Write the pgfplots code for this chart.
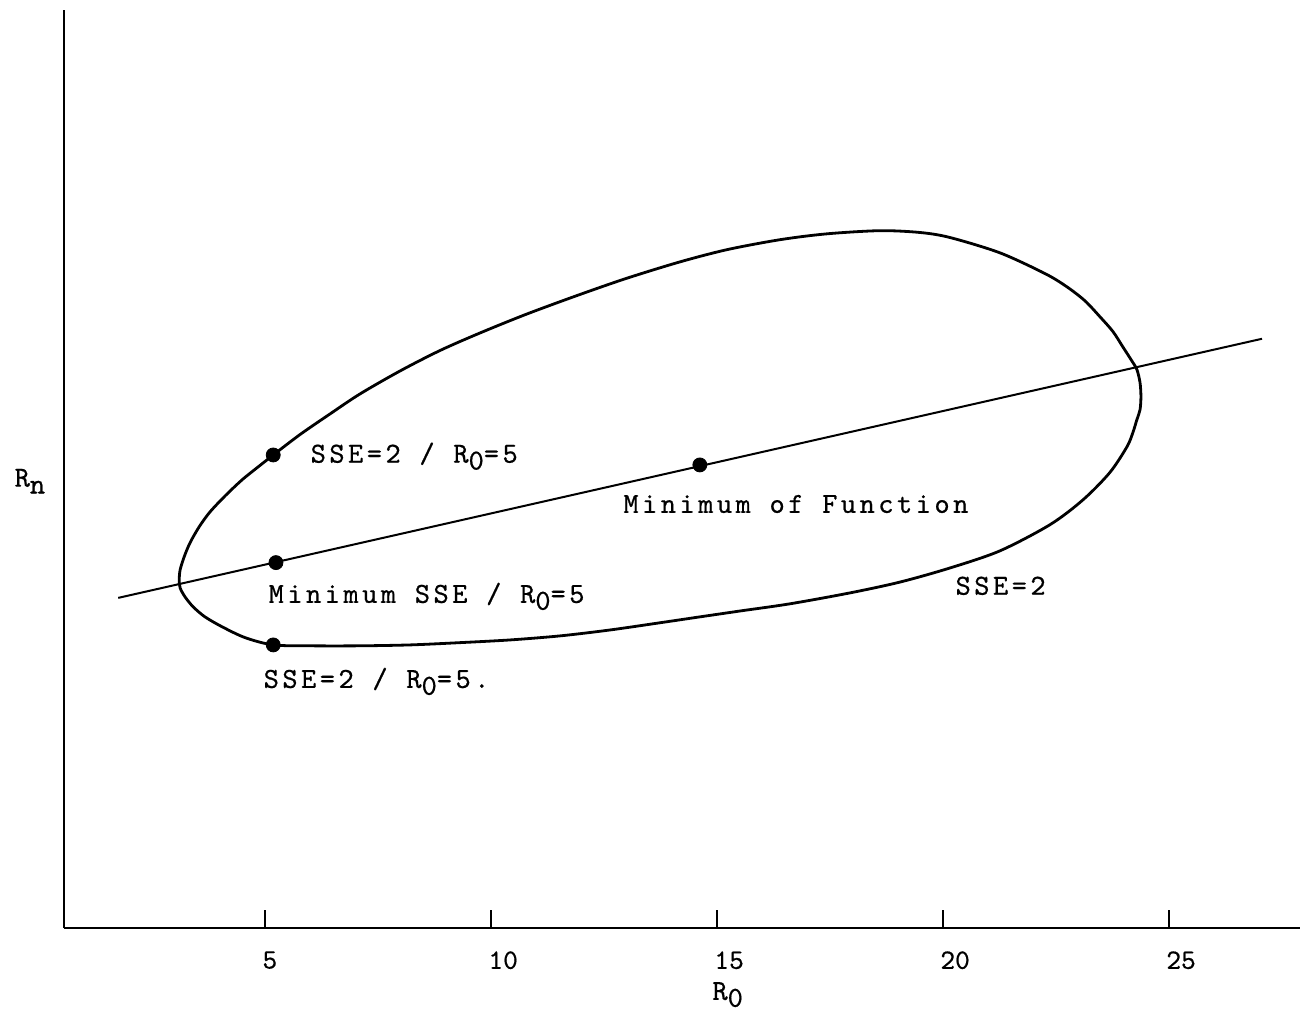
\documentclass[border=0pt]{standalone}
\usepackage{pgfplots}
\pgfplotsset{compat=1.18}
\usepackage{fontspec}
\newfontfamily\tw{lmmono10-regular}[Extension=.otf, LetterSpace=12, FakeBold=0.6]
\newfontfamily\twn{lmmono10-regular}[Extension=.otf, FakeBold=0.6]
\usepackage{graphicx}
\newcommand{\sub}[1]{\raisebox{-0.55ex}{#1}}
\begin{document}
\begin{tikzpicture}
\path[use as bounding box] (-32pt,-42pt) rectangle (618pt,464pt);
\begin{axis}[
  at={(0pt,0pt)}, anchor=south west,
  scale only axis, width=618pt, height=459pt,
  xmin=0.55, xmax=27.9, ymin=0, ymax=20.3,
  axis x line=bottom, axis y line=left,
  axis line style={-, line width=1.4pt, black},
  xtick={5,10,15,20,25}, ytick=\empty,
  tick align=inside, major tick length=9pt,
  tick style={line width=0.9pt, black},
  /pgf/number format/assume math mode=true,
  xticklabel style={font=\twn\fontsize{14}{16}\selectfont, anchor=north west, inner sep=0pt, xshift=-1.5pt, yshift=-11.5pt},
  clip=false,
]
% straight line of minimum SSE
\addplot[black, line width=1pt] coordinates {(1.75,7.30) (27.06,13.03)};
% SSE = 2 contour
\addplot[black, line width=1.4pt, smooth, tension=0.5] coordinates {
(5.18,10.46) (5.77,10.91) (6.44,11.37) (7.10,11.81) (7.99,12.32) (8.87,12.77)
(9.76,13.16) (10.80,13.58) (11.97,14.01) (13.01,14.37) (14.18,14.73) (15.22,15.00)
(16.39,15.22) (17.43,15.35) (18.61,15.42) (19.49,15.38) (20.15,15.27) (21.26,14.93)
(22.26,14.47) (22.74,14.18) (23.14,13.87) (23.47,13.52) (23.76,13.19) (23.98,12.85)
(24.16,12.57) (24.29,12.35) (24.36,12.06) (24.38,11.75) (24.36,11.46) (24.29,11.24)
(24.20,10.95) (24.07,10.64) (23.69,10.07) (23.10,9.47) (22.37,8.92) (21.26,8.34)
(20.15,7.96) (19.05,7.65) (17.94,7.41) (16.62,7.17) (15.51,7.01) (14.62,6.88)
(13.74,6.75) (12.63,6.59) (11.53,6.46) (10.42,6.37) (9.31,6.31) (8.21,6.26)
(7.10,6.24) (6.00,6.24) (5.18,6.26) (4.56,6.42) (4.05,6.66) (3.67,6.88)
(3.41,7.10) (3.23,7.32) (3.12,7.52) (3.10,7.70) (3.12,7.92) (3.21,8.21)
(3.34,8.52) (3.54,8.87) (3.78,9.20) (4.12,9.56) (4.49,9.91) (4.85,10.20) (5.18,10.46)};
% points
\addplot[only marks, mark=*, mark size=3.5pt, black] coordinates {
(5.18,10.46) (5.24,8.08) (5.18,6.26) (14.62,10.24)};
% labels
\begin{scope}[every node/.style={font=\tw\fontsize{14.5}{17}\selectfont, anchor=base west, inner sep=0pt}]
\node at (axis cs:6.00,10.29) {SSE=2 / R\sub{0}=5};
\node at (axis cs:5.07,7.19) {Minimum SSE / R\sub{0}=5};
\node at (axis cs:4.96,5.31) {SSE=2 / R\sub{0}=5.};
\node at (axis cs:12.92,9.18) {Minimum of Function};
\node at (axis cs:20.27,7.37) {SSE=2};
\node at (axis cs:14.89,-1.59) {R\sub{0}};
\node at (axis cs:-0.55,9.76) {R\sub{n}};
\end{scope}
\end{axis}
\end{tikzpicture}
\end{document}
